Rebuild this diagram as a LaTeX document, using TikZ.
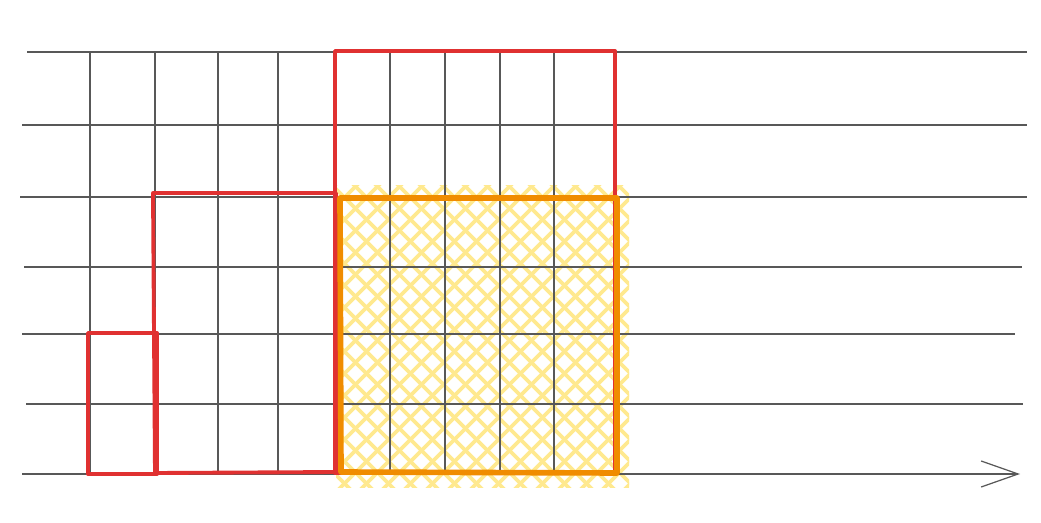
\documentclass[tikz,border=0pt]{standalone}
\usepackage{tikz}
\usetikzlibrary{arrows.meta}
\definecolor{gridgray}{HTML}{585858}
\definecolor{boxred}{HTML}{E03131}
\definecolor{boxorange}{HTML}{F08C00}
\definecolor{hatchyellow}{HTML}{FFE98F}
\tikzset{
  gridline/.style={draw=gridgray, line width=1.1pt},
  axis/.style={gridline, -{Straight Barb[length=0.74cm, width=0.52cm, line width=0.7pt]}},
  redbox/.style={draw=boxred, line width=2.2pt, line join=round},
  orangebox/.style={draw=boxorange, line width=3.2pt, line join=round},
  hatch/.style={draw=hatchyellow, line width=2.2pt}
}
\begin{document}
\begin{tikzpicture}[x=0.02cm, y=-0.02cm]
    \useasboundingbox (0,0) rectangle (1041,523);

    % --- Schraffur ---
    \begin{scope}
        \clip (336,186) rectangle (629,487);
        \foreach \c in {520,542,...,1130}
            \draw [hatch] (\c-500,500) -- (\c-150,150);
        \foreach \c in {-455,-433,...,160}
            \draw [hatch] (300,300+\c) -- (660,660+\c);
    \end{scope}

    % --- Raster ---
    \foreach \y/\a/\b in {52/27/1027, 125/22/1027, 197/20/1027, 267/24/1022, 334/22/1015, 404/26/1023}
        \draw [gridline] (\a,\y) -- (\b,\y);
    \foreach \x in {90,155,218,278,335,390,445,500,554}
        \draw [gridline] (\x,52) -- (\x,474);
    \coordinate (start) at (22,474);
    \coordinate (ende) at (1020,474);
    \draw [axis] (start) -- (ende);

    % --- Rechtecke ---
    \draw [redbox] (88,333) -- (157,333) -- (157,474) -- (88,474) -- cycle;
    \draw [redbox] (153,193) -- (336,193) -- (336,472) -- (155,473) -- cycle;
    \draw [redbox] (335,51) -- (615,51) -- (615,473) -- (335,473) -- cycle;
    \draw [orangebox] (340,198) -- (617,198) -- (617,473) -- (341,472) -- cycle;

\end{tikzpicture}
\end{document}
